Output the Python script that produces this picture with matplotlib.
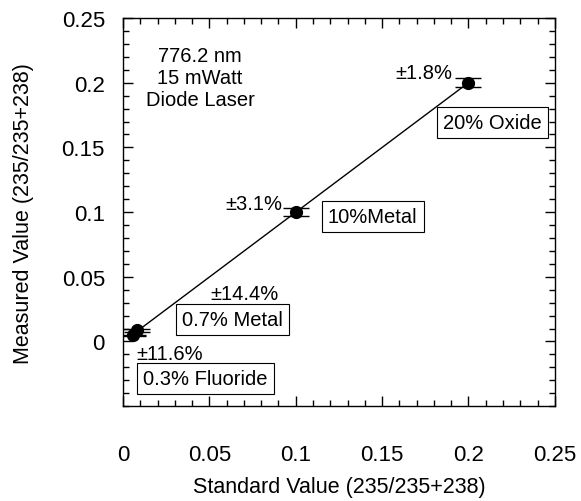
import matplotlib
matplotlib.use('Agg')
import matplotlib.pyplot as plt
import numpy as np
from matplotlib.ticker import MultipleLocator

# standard vs measured 235/(235+238) ratios
labels = ['0.3% Fluoride', '0.7% Metal', '10%Metal', '20% Oxide']
standard = [0.0058, 0.008, 0.1, 0.2]
measured = [0.0047, 0.0085, 0.1, 0.2]
err_pct = [11.6, 14.4, 3.1, 1.8]
err_text = ['\u00b111.6%', '\u00b114.4%', '\u00b13.1%', '\u00b11.8%']

plt.rcParams['font.family'] = ['Liberation Sans', 'DejaVu Sans']

fig = plt.figure(figsize=(5.81, 5.02), dpi=100)
ax = fig.add_axes([0.2117, 0.189, 0.7433, 0.773])

x = np.array(standard)
y = np.array(measured)
yerr = y * np.array(err_pct) / 100

# fitted line through the points
k, b = np.polyfit(x, y, 1)
xl = np.array([x.min(), x.max()])
ax.plot(xl, k * xl + b, color='black', lw=1.0)

ax.errorbar(x, y, yerr=yerr, fmt='o', color='black', ms=8.5,
            capsize=9.7, elinewidth=1.0, capthick=1.0)

box = dict(boxstyle='square,pad=0.3', fc='white', ec='black', lw=0.8)
fs = 14.5
ax.text(0.0116, -0.0287, labels[0], fontsize=fs, ha='left', va='center', bbox=box)
ax.text(0.0075, -0.0093, err_text[0], fontsize=fs, ha='left', va='center')
ax.text(0.0341, 0.0171, labels[1], fontsize=fs, ha='left', va='center', bbox=box)
ax.text(0.0503, 0.0373, err_text[1], fontsize=fs, ha='left', va='center')
ax.text(0.1186, 0.0963, labels[2], fontsize=fs, ha='left', va='center', bbox=box)
ax.text(0.092, 0.107, err_text[2], fontsize=fs, ha='right', va='center')
ax.text(0.1852, 0.169, labels[3], fontsize=fs, ha='left', va='center', bbox=box)
ax.text(0.1904, 0.2080, err_text[3], fontsize=fs, ha='right', va='center')

ax.text(0.0446, 0.204, '776.2 nm\n15 mWatt\nDiode Laser', fontsize=fs,
        ha='center', va='center', linespacing=1.2)

ax.set_xlim(0, 0.25)
ax.set_ylim(-0.05, 0.25)
ax.set_xticks([0, 0.05, 0.1, 0.15, 0.2, 0.25])
ax.set_xticklabels(['0', '0.05', '0.1', '0.15', '0.2', '0.25'])
ax.set_yticks([0, 0.05, 0.1, 0.15, 0.2, 0.25])
ax.set_yticklabels(['0', '0.05', '0.1', '0.15', '0.2', '0.25'])
ax.xaxis.set_minor_locator(MultipleLocator(0.01))
ax.yaxis.set_minor_locator(MultipleLocator(0.01))
ax.tick_params(which='both', direction='in', top=True, right=True, width=1.0)
ax.tick_params(which='major', length=7, labelsize=16)
ax.tick_params(axis='x', which='major', pad=27)
ax.tick_params(axis='y', which='major', pad=13)
ax.tick_params(which='minor', length=4)
for s in ax.spines.values():
    s.set_linewidth(1.0)

ax.set_xlabel('Standard Value (235/235+238)', fontsize=15.5, labelpad=8)
ax.set_ylabel('Measured Value (235/235+238)', fontsize=15.5, labelpad=20)

fig.savefig('out.png', dpi=100)
